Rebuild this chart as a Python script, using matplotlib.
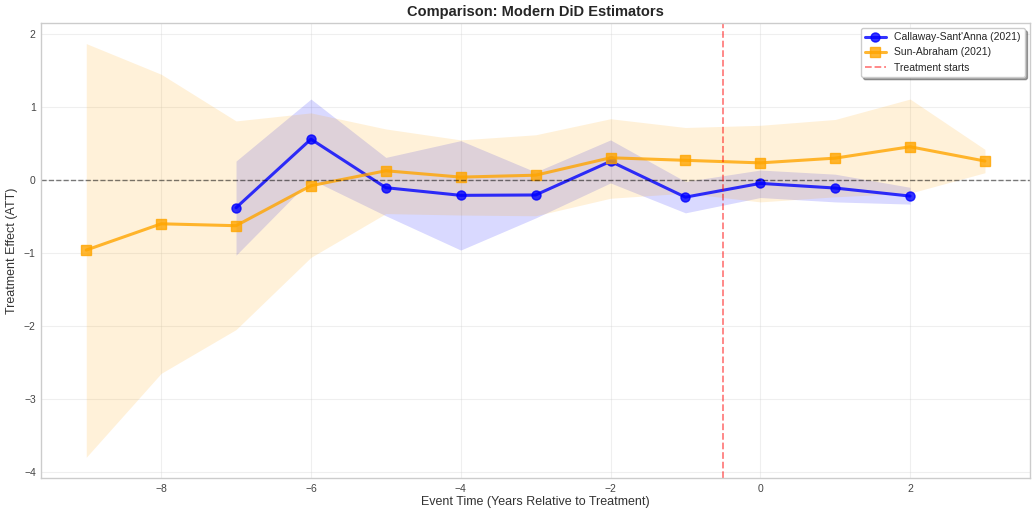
import matplotlib
matplotlib.use("Agg")
import matplotlib.pyplot as plt
import numpy as np

# Event time relative to treatment
cs_time = [-7, -6, -5, -4, -3, -2, -1, 0, 1, 2]
cs_att = [-0.38, 0.56, -0.105, -0.21, -0.205, 0.256, -0.235, -0.046, -0.11, -0.22]
cs_lower = [-1.03, 0.01, -0.49, -0.96, -0.52, -0.04, -0.45, -0.24, -0.30, -0.33]
cs_upper = [0.26, 1.11, 0.31, 0.54, 0.11, 0.55, -0.02, 0.137, 0.08, -0.10]

sa_time = [-9, -8, -7, -6, -5, -4, -3, -2, -1, 0, 1, 2, 3]
sa_att = [-0.96, -0.60, -0.626, -0.078, 0.127, 0.04, 0.066, 0.305, 0.27, 0.235, 0.30, 0.456, 0.26]
sa_lower = [-3.80, -2.65, -2.05, -1.06, -0.46, -0.48, -0.49, -0.25, -0.18, -0.30, -0.23, -0.18, 0.10]
sa_upper = [1.87, 1.45, 0.81, 0.92, 0.70, 0.55, 0.62, 0.84, 0.72, 0.75, 0.83, 1.11, 0.42]

plt.style.use("seaborn-v0_8-whitegrid")
plt.rcParams["font.family"] = ["Liberation Sans", "DejaVu Sans"]

fig, ax = plt.subplots(figsize=(10.33, 5.09), dpi=100)
fig.subplots_adjust(left=0.040, right=0.997, top=0.955, bottom=0.061)

ax.plot(cs_time, cs_att, "o-", color="blue", linewidth=2.2, markersize=6.5,
        alpha=0.8, label="Callaway-Sant'Anna (2021)")
ax.fill_between(cs_time, cs_lower, cs_upper, color="blue", alpha=0.15, linewidth=0)

ax.plot(sa_time, sa_att, "s-", color="orange", linewidth=2.2, markersize=6.5,
        alpha=0.8, label="Sun-Abraham (2021)")
ax.fill_between(sa_time, sa_lower, sa_upper, color="orange", alpha=0.15, linewidth=0)

ax.axhline(0, color="black", linestyle="--", linewidth=1, alpha=0.5)
ax.axvline(-0.5, color="red", linestyle="--", linewidth=1.3, alpha=0.5,
           label="Treatment starts")

ax.set_xlabel("Event Time (Years Relative to Treatment)", fontsize=9, color="#333333",
              labelpad=2)
ax.set_ylabel("Treatment Effect (ATT)", fontsize=9, color="#333333", labelpad=4)
ax.set_title("Comparison: Modern DiD Estimators", fontsize=10.5, fontweight="bold",
             color="#262626", pad=5)
ax.tick_params(labelsize=7.5, colors="#444444", pad=4)
ax.grid(True, alpha=0.3)
for s in ax.spines.values():
    s.set_color("#cccccc")

ax.legend(loc="upper right", fontsize=7.5, frameon=True, shadow=True, fancybox=True)

fig.savefig("out.png", dpi=100)
